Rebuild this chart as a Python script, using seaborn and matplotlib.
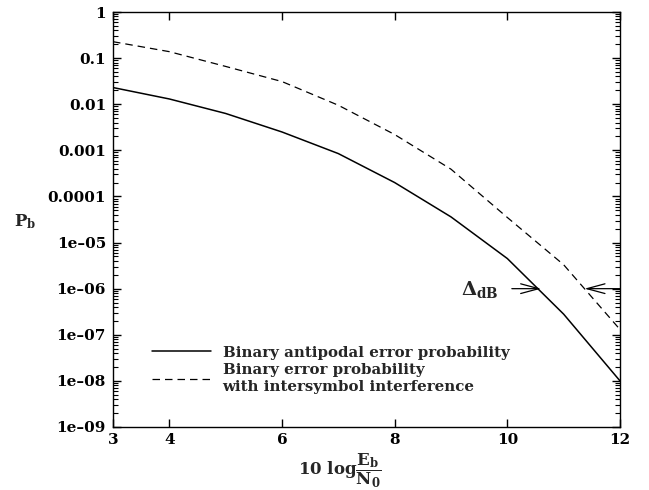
import matplotlib
matplotlib.use("Agg")
import matplotlib.pyplot as plt
import seaborn as sns
import pandas as pd

# ---- data ----
ebn0_db = [3, 4, 5, 6, 7, 8, 9, 10, 11, 12]
pb_antipodal = [0.023, 0.0130, 0.0063, 0.0025, 0.00085, 0.00020, 3.6e-5, 4.5e-6, 2.8e-7, 1.0e-8]
pb_isi = [0.227, 0.138, 0.066, 0.031, 0.0095, 0.0022, 3.9e-4, 3.5e-5, 3.3e-6, 1.3e-7]

label_antipodal = "Binary antipodal error probability"
label_isi = "Binary error probability\nwith intersymbol interference"

x_ticks = [3, 4, 6, 8, 10, 12]
y_ticks = [1, 1e-1, 1e-2, 1e-3, 1e-4, 1e-5, 1e-6, 1e-7, 1e-8, 1e-9]
y_tick_labels = ["1", "0.1", "0.01", "0.001", "0.0001",
                 "1e\u201305", "1e\u201306", "1e\u201307", "1e\u201308", "1e\u201309"]

sns.set_style("ticks")
plt.rcParams["font.family"] = ["DejaVu Serif"]
plt.rcParams["font.weight"] = "bold"
plt.rcParams["mathtext.fontset"] = "dejavuserif"
plt.rcParams["axes.linewidth"] = 1.0

fig = plt.figure(figsize=(6.49, 4.90), dpi=100)
ax = fig.add_axes([113 / 649, 1 - 427 / 490, (620 - 113) / 649, (427 - 12) / 490])

df_a = pd.DataFrame({"x": ebn0_db, "y": pb_antipodal})
df_i = pd.DataFrame({"x": ebn0_db, "y": pb_isi})
sns.lineplot(data=df_a, x="x", y="y", color="black", lw=1.1, ax=ax, label=label_antipodal)
sns.lineplot(data=df_i, x="x", y="y", color="black", lw=0.9, ax=ax, label=label_isi,
             linestyle=(0, (6, 4)))

ax.set_yscale("log")
ax.set_xlim(3, 12)
ax.set_ylim(1e-9, 1)
ax.set_xticks(x_ticks)
ax.set_xticklabels([str(t) for t in x_ticks])
ax.set_yticks(y_ticks)
ax.set_yticklabels(y_tick_labels)
ax.yaxis.set_minor_locator(matplotlib.ticker.LogLocator(base=10, subs=range(2, 10), numticks=20))
ax.yaxis.set_minor_formatter(matplotlib.ticker.NullFormatter())

ax.tick_params(which="both", direction="in", top=True, right=True, colors="black")
ax.tick_params(which="major", length=6, width=1.0, labelsize=11, pad=5)
ax.tick_params(which="minor", length=3.5, width=0.8)
ax.tick_params(axis="x", which="major", pad=4)
for lab in ax.get_xticklabels() + ax.get_yticklabels():
    lab.set_fontweight("bold")
for s in ax.spines.values():
    s.set_color("black")

ax.set_xlabel(r"10 log$\dfrac{\mathbf{E_b}}{\mathbf{N_0}}$", fontsize=12, fontweight="bold")
ax.xaxis.set_label_coords(0.448, -0.058)
ax.set_ylabel(r"$\mathbf{P_b}$", fontsize=12, rotation=0, ha="center", va="center")
ax.yaxis.set_label_coords(-0.174, 0.494)

leg = ax.legend(loc="upper left", bbox_to_anchor=(0.077, 0.196), frameon=False,
                handlelength=3.9, handletextpad=0.8, labelspacing=0.25,
                borderaxespad=0, borderpad=0,
                prop={"family": "DejaVu Serif", "weight": "bold", "size": 10.8})

arrow_style = "->,head_length=1.3,head_width=0.35"
ax.annotate("", xy=(10.6, 1e-6), xytext=(10.08, 1e-6),
            arrowprops=dict(arrowstyle=arrow_style, lw=0.9, color="black", shrinkA=0, shrinkB=0))
ax.annotate("", xy=(11.37, 1e-6), xytext=(12.0, 1e-6),
            arrowprops=dict(arrowstyle=arrow_style, lw=0.9, color="black", shrinkA=0, shrinkB=0))
ax.text(9.52, 7.3e-7, r"$\mathbf{\Delta_{dB}}$", ha="center", va="baseline", fontsize=14)

fig.savefig("out.png", dpi=100)
